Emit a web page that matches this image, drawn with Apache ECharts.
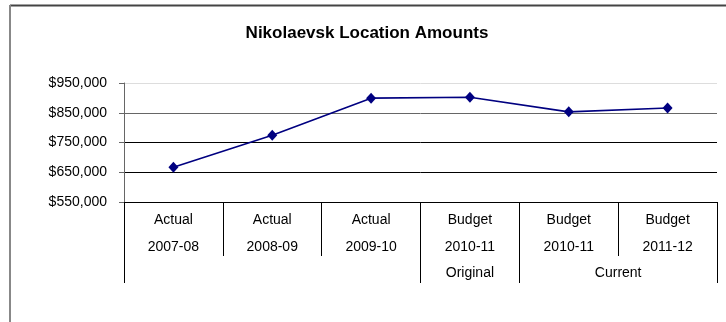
<!DOCTYPE html>
<html>
<head>
<meta charset="utf-8">
<script src="https://cdn.jsdelivr.net/npm/echarts@6/dist/echarts.min.js"></script>
<style>html,body{margin:0;padding:0;background:#fff}#c{width:726px;height:322px}</style>
</head>
<body>
<div id="c"></div>
<script>
const titleText = 'Nikolaevsk Location Amounts';
const kinds = ['Actual', 'Actual', 'Actual', 'Budget', 'Budget', 'Budget'];
const years = ['2007-08', '2008-09', '2009-10', '2010-11', '2010-11', '2011-12'];
const amounts = [667000, 774000, 899000, 902000, 853000, 866000];
const groupLabels = ['', 'Original', 'Current'];
const groupSpans = [[0, 3], [3, 4], [4, 6]];
const yMin = 550000, yMax = 950000, yStep = 100000;

const categories = kinds.map((k, i) => k + '\n' + years[i]);
const groupBounds = [0].concat(groupSpans.map(s => s[1]));
const groupMids = groupSpans.map(s => (s[0] + s[1]) / 2);
const FONT = "'Liberation Sans', Arial, sans-serif";

const chart = echarts.init(document.getElementById('c'), null, {renderer: 'canvas'});
chart.setOption({
  animation: false,
  backgroundColor: '#fff',
  grid: {left: 124, right: 9, top: 83, bottom: 120, containLabel: false},
  graphic: [
    {type: 'line', shape: {x1: 10, y1: 5.5, x2: 726, y2: 5.5}, style: {stroke: '#444', lineWidth: 2}},
    {type: 'line', shape: {x1: 10, y1: 5, x2: 10, y2: 322}, style: {stroke: '#888', lineWidth: 2}},
    {type: 'text', x: 367, y: 33, style: {text: titleText, fontFamily: FONT, fontWeight: 'bold', fontSize: 17, fill: '#000', textAlign: 'center', textVerticalAlign: 'middle'}}
  ],
  xAxis: [
    {
      type: 'category', data: categories, boundaryGap: true,
      axisLine: {lineStyle: {color: '#000', width: 1}},
      axisTick: {show: true, interval: 0, length: 54, lineStyle: {color: '#000'}},
      axisLabel: {interval: 0, fontFamily: FONT, fontSize: 14, color: '#000', lineHeight: 27, margin: 5},
      splitLine: {show: false}
    },
    {
      type: 'value', min: 0, max: categories.length, position: 'bottom',
      axisLine: {show: false},
      axisTick: {show: true, customValues: groupBounds, length: 81, lineStyle: {color: '#000'}},
      axisLabel: {show: true, customValues: groupMids, margin: 64, fontFamily: FONT, fontSize: 14, color: '#000',
        formatter: function (v) { const i = groupMids.indexOf(v); return i >= 0 ? groupLabels[i] : ''; }},
      splitLine: {show: false}
    }
  ],
  yAxis: {
    type: 'value', min: yMin, max: yMax, interval: yStep,
    axisLine: {show: true, lineStyle: {color: '#666', width: 1}},
    axisTick: {show: true, length: 5, lineStyle: {color: '#666'}},
    axisLabel: {fontFamily: FONT, fontSize: 14, color: '#000', margin: 17,
      formatter: v => '$' + v.toLocaleString('en-US')},
    splitLine: {show: true, lineStyle: {color: ['#000', '#000', '#000', '#666', '#ddd'], width: 1}}
  },
  series: [{
    type: 'line', xAxisIndex: 0, data: amounts,
    symbol: 'diamond', symbolSize: [10, 11],
    lineStyle: {color: '#000080', width: 1.6},
    itemStyle: {color: '#000080'}
  }]
});
</script>
</body>
</html>
